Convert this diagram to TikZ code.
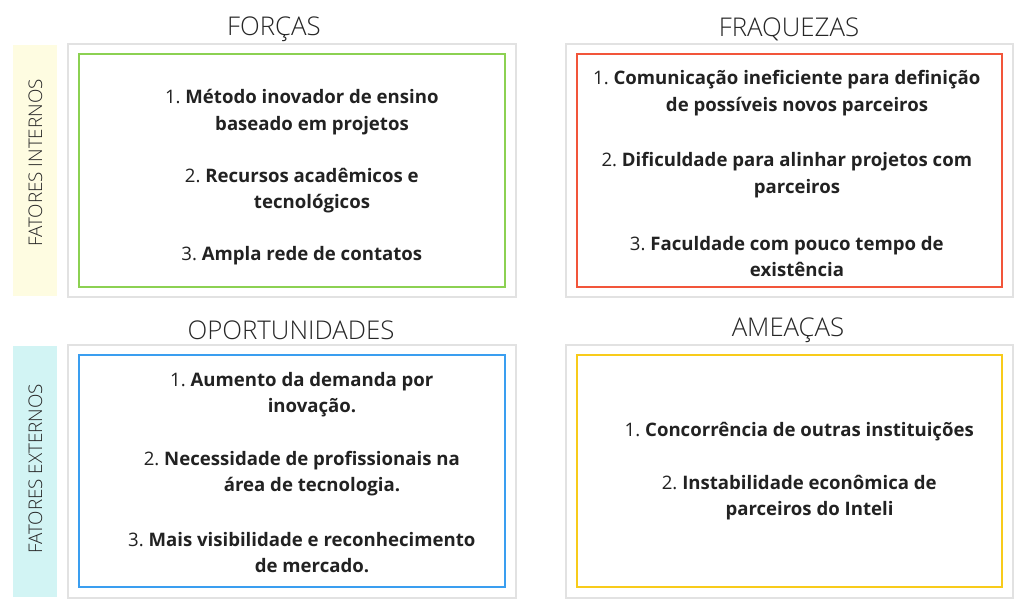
\documentclass[tikz,border=0pt]{standalone}
\usepackage{fontspec}
\setmainfont{Open Sans}
\newfontfamily\lightfont{Open Sans Light}
\definecolor{txt}{HTML}{222222}
\definecolor{ttl}{HTML}{262626}
\definecolor{outerc}{HTML}{E2E2E2}
\definecolor{gr}{HTML}{8CD152}
\definecolor{rd}{HTML}{F2553A}
\definecolor{bl}{HTML}{3A9EF0}
\definecolor{yl}{HTML}{F8CB1A}
\definecolor{bandy}{HTML}{FEFCE1}
\definecolor{bandc}{HTML}{D2F4F4}
\tikzset{
  outerbox/.style={draw=outerc, line width=1.2pt},
  innerbox/.style={line width=2.2pt},
  title/.style={font=\lightfont\fontsize{25.8}{30}\selectfont, text=ttl, inner sep=0pt},
  side/.style={font=\lightfont\fontsize{18.8}{22}\selectfont, text=ttl, rotate=90, inner sep=0pt},
  item/.style={font=\fontsize{18.6}{26.5}\selectfont\bfseries, text=txt, align=center, inner sep=0pt},
}
\newcommand{\num}[1]{\llap{\mdseries #1~}}
\begin{document}
\begin{tikzpicture}[x=1pt,y=-1pt]
\useasboundingbox (0,0) rectangle (1030,604);
\fill[white] (0,0) rectangle (1030,604);
% bands
\fill[bandy] (13,45) rectangle (57,296);
\fill[bandc] (13,346) rectangle (57,597);
\node[side] (sideI) at (35.5,163) {FATORES INTERNOS};
\node[side] (sideE) at (35.5,469) {FATORES EXTERNOS};
% outer boxes
\draw[outerbox] (68,44) rectangle (516,297);
\draw[outerbox] (566,44) rectangle (1013,297);
\draw[outerbox] (68,345) rectangle (516,598);
\draw[outerbox] (566,345) rectangle (1013,598);
% inner boxes
\draw[innerbox, draw=gr] (79,54) rectangle (505,287);
\draw[innerbox, draw=rd] (577,54) rectangle (1002,287);
\draw[innerbox, draw=bl] (79,355) rectangle (505,587);
\draw[innerbox, draw=yl] (577,355) rectangle (1002,587);
% titles
\node[title] (tF) at (274,29) {FORÇAS};
\node[title] (tW) at (789,29) {FRAQUEZAS};
\node[title] (tO) at (291,330) {OPORTUNIDADES};
\node[title] (tT) at (788,330) {AMEAÇAS};
% forças
\node[item] (f1) at (312,112) {\num{1.}Método inovador de ensino\\baseado em projetos};
\node[item] (f2) at (312,190.5) {\num{2.}Recursos acadêmicos e\\tecnológicos};
\node[item] (f3) at (312,255.5) {\num{3.}Ampla rede de contatos};
% fraquezas
\node[item] (w1) at (797,93) {\num{1.}Comunicação ineficiente para definição\\de possíveis novos parceiros};
\node[item] (w2) at (797,175) {\num{2.}Dificuldade para alinhar projetos com\\parceiros};
\node[item] (w3) at (797,256.5) {\num{3.}Faculdade com pouco tempo de\\existência};
% oportunidades
\node[item] (o1) at (312,394.5) {\num{1.}Aumento da demanda por\\inovação.};
\node[item] (o2) at (312,473.5) {\num{2.}Necessidade de profissionais na\\área de tecnologia.};
\node[item] (o3) at (312,552.5) {\num{3.}Mais visibilidade e reconhecimento\\de mercado.};
% ameaças
\node[item] (a1) at (809.5,431.5) {\num{1.}Concorrência de outras instituições};
\node[item] (a2) at (809.5,497.5) {\num{2.}Instabilidade econômica de\\parceiros do Inteli};
\end{tikzpicture}
\end{document}
